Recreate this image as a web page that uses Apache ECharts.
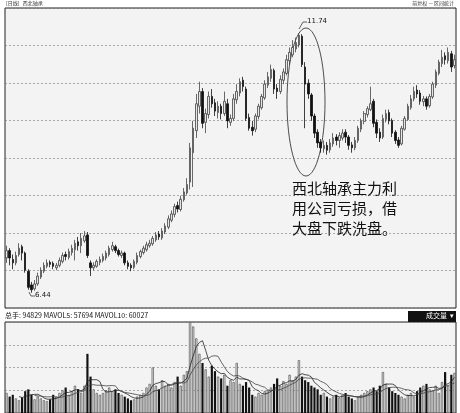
<!DOCTYPE html>
<html><head><meta charset="utf-8">
<script src="https://cdn.jsdelivr.net/npm/echarts@6/dist/echarts.min.js"></script>
<style>html,body{margin:0;padding:0;background:#fff}#c{width:460px;height:413px}</style>
</head><body><div id="c"></div>
<script>
const opens=[7.15,7.30,7.12,7.05,7.22,7.38,7.25,6.88,6.60,6.52,6.62,6.76,6.88,6.98,7.06,7.04,6.95,7.00,7.08,7.22,7.16,7.26,7.32,7.48,7.40,7.50,7.62,7.05,6.95,6.98,7.06,7.10,7.15,7.22,7.32,7.38,7.30,7.20,7.25,7.05,7.00,6.96,7.06,7.18,7.26,7.32,7.40,7.44,7.52,7.64,7.56,7.68,7.78,7.92,8.04,8.22,8.14,8.34,8.48,8.70,9.30,9.75,10.25,10.55,9.92,10.08,10.45,10.32,10.12,10.25,10.10,10.30,9.92,10.00,10.38,10.52,10.78,10.60,10.02,9.82,9.78,10.04,10.22,10.42,10.68,10.82,10.98,10.62,10.55,10.78,10.92,11.18,11.30,11.42,11.50,11.68,11.05,10.72,10.48,10.05,9.72,9.52,9.38,9.45,9.36,9.48,9.62,9.55,9.60,9.72,9.62,9.46,9.40,9.55,9.78,9.94,10.08,10.18,10.35,9.92,9.72,9.62,9.98,10.12,9.96,9.72,9.56,9.48,9.78,9.98,10.22,10.40,10.58,10.52,10.34,10.40,10.26,10.44,10.68,10.92,11.12,11.28,11.18,11.32,11.08];
const closes=[7.30,7.15,7.05,7.20,7.35,7.25,6.90,6.55,6.50,6.62,6.78,6.90,7.00,7.05,7.02,6.98,7.00,7.10,7.20,7.18,7.28,7.35,7.45,7.40,7.55,7.60,7.20,6.95,7.00,7.08,7.12,7.18,7.25,7.35,7.40,7.30,7.22,7.25,7.05,6.98,6.95,7.08,7.20,7.28,7.35,7.42,7.45,7.55,7.62,7.58,7.70,7.80,7.95,8.05,8.20,8.15,8.35,8.50,8.65,9.40,9.80,10.30,10.55,9.90,10.10,10.45,10.30,10.15,10.25,10.10,10.35,9.95,10.00,10.40,10.55,10.75,10.65,10.00,9.80,9.75,10.05,10.25,10.45,10.70,10.85,11.00,10.60,10.55,10.80,10.95,11.20,11.35,11.45,11.55,11.70,11.10,10.70,10.50,10.05,9.70,9.50,9.40,9.45,9.35,9.50,9.60,9.55,9.65,9.70,9.62,9.45,9.40,9.55,9.80,9.95,10.10,10.20,10.30,9.90,9.70,9.60,10.00,10.10,9.95,9.70,9.55,9.45,9.80,10.00,10.25,10.40,10.55,10.50,10.35,10.40,10.25,10.45,10.70,10.95,11.15,11.25,11.20,11.35,11.05,11.20];
const lows=[7.05,7.00,6.92,7.00,7.18,7.10,6.85,6.50,6.44,6.48,6.58,6.72,6.84,6.94,6.96,6.92,6.90,6.96,7.04,7.10,7.12,7.20,7.10,7.30,7.25,7.46,7.15,6.78,6.90,6.95,7.00,7.06,7.10,7.18,7.28,7.25,7.18,7.15,7.00,6.92,6.88,6.92,7.02,7.14,7.22,7.28,7.36,7.40,7.48,7.52,7.52,7.64,7.74,7.88,7.98,8.08,8.10,8.30,8.44,8.55,8.60,9.60,10.10,9.80,9.70,10.00,10.22,10.05,10.00,9.98,10.05,9.80,9.85,9.95,10.30,10.45,10.55,9.95,9.75,9.65,9.72,9.98,10.18,10.38,10.62,10.75,10.50,10.40,10.50,10.70,10.88,11.10,11.25,11.35,11.45,11.05,9.80,10.40,9.95,9.60,9.40,9.30,9.30,9.26,9.30,9.42,9.45,9.40,9.55,9.50,9.36,9.30,9.35,9.50,9.72,9.88,10.02,10.15,9.82,9.60,9.52,9.58,9.92,9.88,9.62,9.48,9.40,9.45,9.75,9.95,10.18,10.35,10.42,10.28,10.25,10.18,10.22,10.40,10.62,10.88,11.05,11.10,11.12,10.95,11.02];
const highs=[7.40,7.35,7.22,7.28,7.45,7.42,7.28,6.92,6.66,6.70,6.85,6.96,7.06,7.12,7.10,7.08,7.05,7.16,7.26,7.28,7.34,7.42,7.52,7.58,7.66,7.70,7.68,7.10,7.06,7.12,7.18,7.24,7.30,7.40,7.48,7.42,7.34,7.30,7.28,7.10,7.04,7.12,7.26,7.32,7.40,7.48,7.52,7.60,7.68,7.70,7.76,7.86,8.02,8.12,8.26,8.30,8.42,8.58,8.78,9.50,9.95,10.50,10.75,10.62,10.20,10.55,10.60,10.40,10.35,10.30,10.55,10.40,10.08,10.50,10.70,10.82,10.85,10.65,10.10,9.95,10.10,10.30,10.50,10.78,10.95,11.10,11.02,10.70,10.88,11.02,11.30,11.45,11.60,11.65,11.74,11.72,11.15,10.80,10.52,10.10,9.78,9.58,9.55,9.52,9.58,9.70,9.68,9.72,9.78,9.78,9.66,9.52,9.62,9.85,10.00,10.15,10.25,10.65,10.40,9.98,9.80,10.08,10.18,10.18,10.00,9.76,9.62,9.85,10.05,10.30,10.48,10.65,10.68,10.58,10.46,10.45,10.50,10.75,11.00,11.20,11.40,11.35,11.45,11.38,11.30];
const volumes=[22,18,20,16,14,17,24,26,20,15,18,16,14,13,15,20,18,22,25,28,20,24,30,26,22,30,65,40,26,22,20,22,25,28,24,26,22,20,18,16,14,15,18,20,22,28,32,50,30,26,36,30,32,28,34,40,30,42,46,100,95,82,65,55,48,40,52,46,40,38,42,30,36,34,55,32,30,34,28,20,18,22,20,24,25,28,32,38,30,35,32,42,36,40,58,40,36,34,30,28,26,20,22,18,16,18,20,17,20,22,18,16,14,18,20,22,24,26,28,24,30,45,32,28,24,22,20,18,16,20,22,18,24,28,30,32,26,25,30,22,34,45,30,42,44,36,40,45,50];
const vols=volumes.slice(0,closes.length);
const cats=closes.map((_,i)=>i);
const header={vol:'总手: 94829 MAVOL5: 57694 MAVOL10: 60027', box:'成交量', hi:'11.74', lo:'6.44'};
const note=['西北轴承主力利','用公司亏损，借','大盘下跌洗盘。'];
function ma(n){return vols.map((v,i)=>{if(i<n-1)return '-';let s=0;for(let k=i-n+1;k<=i;k++)s+=vols[k];return +(s/n).toFixed(2);});}
const kdata=closes.map((c,i)=>[opens[i],c,lows[i],highs[i]]);
const vdata=vols.map((v,i)=>({value:v,itemStyle:closes[i]>=opens[i]?{color:'#dcdcdc',borderColor:'#444',borderWidth:0.6}:{color:'#111'}}));
const chart=echarts.init(document.getElementById('c'));
const split={show:true,lineStyle:{color:'#777',type:[2,2],width:0.6}};
chart.setOption({
 backgroundColor:'#fff',animation:false,
 grid:[{left:5,right:4,top:8,height:300,show:true,backgroundColor:'#f3f3f3',borderColor:'#222',borderWidth:1},
       {left:5,right:4,top:322,height:91,show:true,backgroundColor:'#f3f3f3',borderColor:'#222',borderWidth:1}],
 xAxis:[{type:'category',data:cats,gridIndex:0,boundaryGap:true,show:false},
        {type:'category',data:cats,gridIndex:1,boundaryGap:true,show:false}],
 yAxis:[{type:'value',gridIndex:0,min:6.128,max:12.256,interval:0.766,axisLabel:{show:false},axisTick:{show:false},axisLine:{show:false},splitLine:split},
        {type:'value',gridIndex:1,min:0,max:100,interval:25,axisLabel:{show:false},axisTick:{show:false},axisLine:{show:false},splitLine:split}],
 series:[
  {type:'candlestick',data:kdata,xAxisIndex:0,yAxisIndex:0,barWidth:'65%',
   itemStyle:{color:'#e6e6e6',color0:'#111',borderColor:'#444',borderColor0:'#111',borderWidth:0.8},
   markPoint:{symbol:'none',data:[]}},
  {type:'bar',data:vdata,xAxisIndex:1,yAxisIndex:1,barWidth:'70%'},
  {type:'line',data:ma(5),xAxisIndex:1,yAxisIndex:1,symbol:'none',lineStyle:{color:'#222',width:0.8}},
  {type:'line',data:ma(10),xAxisIndex:1,yAxisIndex:1,symbol:'none',lineStyle:{color:'#444',width:0.8}}
 ],
 graphic:[
  {type:'text',left:6,top:1,style:{text:'[日线]   西北轴承',fontSize:5,fill:'#333',fontFamily:'Noto Sans CJK SC'}},
  {type:'text',right:6,top:1,style:{text:'前复权 — 区间统计',fontSize:5,fill:'#333',fontFamily:'Noto Sans CJK SC'}},
  {type:'text',left:5,top:312,style:{text:header.vol,fontSize:7,fill:'#111',fontFamily:'Noto Sans CJK SC'}},
  {type:'rect',shape:{x:408,y:311,width:48,height:11},style:{fill:'#111'}},
  {type:'text',left:426,top:312,style:{text:header.box+'  ▾',fontSize:7,fill:'#fff',fontFamily:'Noto Sans CJK SC'}},
  {type:'ellipse',shape:{cx:306,cy:102,rx:19,ry:74},style:{fill:'none',stroke:'#222',lineWidth:0.8}},
  {type:'polyline',shape:{points:[[299,29],[303,22],[307,22]]},style:{stroke:'#222',lineWidth:0.7,fill:'none'}},
  {type:'text',left:307,top:18,style:{text:header.hi,fontSize:7,fill:'#111',fontFamily:'DejaVu Sans'}},
  {type:'polyline',shape:{points:[[29,292],[31,296],[35,296]]},style:{stroke:'#222',lineWidth:0.7,fill:'none'}},
  {type:'text',left:35,top:292,style:{text:header.lo,fontSize:7,fill:'#111',fontFamily:'DejaVu Sans'}},
  {type:'text',left:292,top:178,style:{text:note.join('\n'),fontSize:15,lineHeight:20,fill:'#111',fontFamily:'Noto Sans CJK SC'}}
 ]
});
</script></body></html>
